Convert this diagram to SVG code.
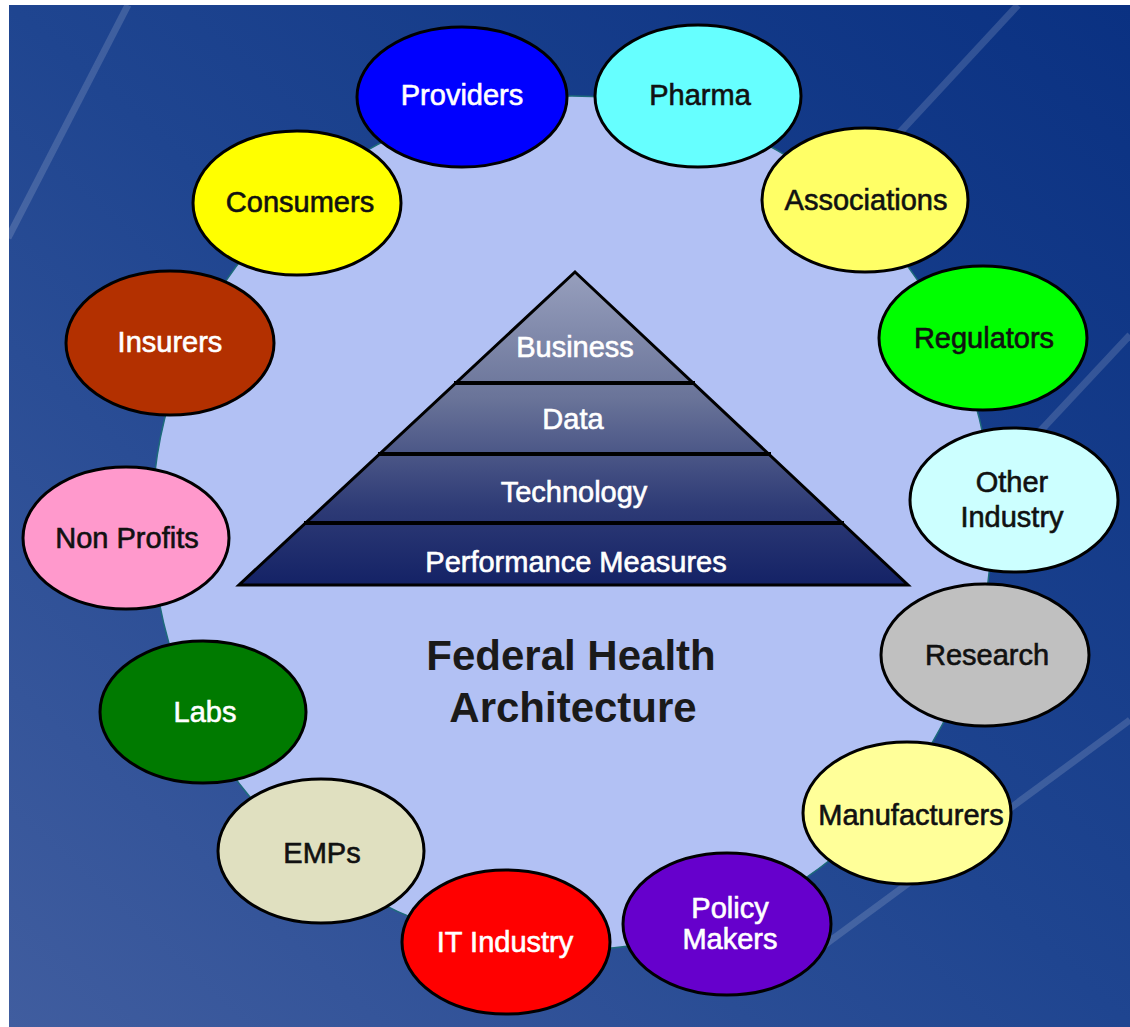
<svg xmlns="http://www.w3.org/2000/svg" width="1130" height="1027" viewBox="0 0 1130 1027">
<defs>
<linearGradient id="bg" x1="1" y1="0" x2="0" y2="1">
<stop offset="0" stop-color="#0a3182"/>
<stop offset="0.5" stop-color="#1f4590"/>
<stop offset="1" stop-color="#405d9f"/>
</linearGradient>
<linearGradient id="pyr" x1="0" y1="272" x2="0" y2="585" gradientUnits="userSpaceOnUse">
<stop offset="0" stop-color="#979fbd"/>
<stop offset="0.4" stop-color="#6a7499"/>
<stop offset="0.75" stop-color="#2e3b76"/>
<stop offset="1" stop-color="#142266"/>
</linearGradient>
<style>
.node{stroke:#000;stroke-width:3}
.lbl{font-family:"Liberation Sans",Arial,sans-serif;font-size:29px;text-anchor:middle;stroke-width:0.6}
.w{fill:#fff;stroke:#fff}
.k{fill:#111;stroke:#111}
.streak{stroke:#fff;stroke-opacity:0.15;stroke-width:7;fill:none}
.sep{stroke:#000;stroke-width:4}
.ttl{font-family:"Liberation Sans",Arial,sans-serif;font-size:42px;font-weight:bold;text-anchor:middle;fill:#1a1a1a}
</style>
</defs>
<rect x="0" y="0" width="1130" height="1027" fill="#fff"/>
<rect x="9" y="5" width="1121" height="1022" fill="url(#bg)"/>
<g id="streaks">
<line class="streak" x1="128" y1="5" x2="8" y2="238"/>
<line class="streak" x1="1018" y1="5" x2="800" y2="240"/>
<line class="streak" x1="1130" y1="335" x2="1030" y2="442"/>
<line class="streak" x1="1130" y1="720" x2="815" y2="952"/>
</g>
<g id="hub">
<ellipse cx="572" cy="523" rx="420" ry="427" fill="#b2c1f4" stroke="#1d6b7b" stroke-width="1.5"/>
</g>
<g id="pyramid">
<polygon points="575,272 908,585 239,585" fill="url(#pyr)" stroke="#000" stroke-width="3" stroke-linejoin="miter"/>
<line class="sep" x1="454" y1="383" x2="695" y2="383"/>
<line class="sep" x1="378" y1="454" x2="771" y2="454"/>
<line class="sep" x1="304" y1="523" x2="844" y2="523"/>
<text class="lbl w" x="575" y="357">Business</text>
<text class="lbl w" x="573" y="429">Data</text>
<text class="lbl w" x="574" y="502">Technology</text>
<text class="lbl w" x="576" y="572">Performance Measures</text>
</g>
<g id="title">
<text class="ttl" x="571" y="670">Federal Health</text>
<text class="ttl" x="573" y="722">Architecture</text>
</g>
<g id="connectors"></g>
<g id="providers"><ellipse class="node" cx="462" cy="97" rx="105" ry="70" fill="#0000ff"/><text class="lbl w" x="462" y="105">Providers</text></g>
<g id="pharma"><ellipse class="node" cx="698" cy="96" rx="103" ry="71" fill="#66ffff"/><text class="lbl k" x="700" y="105">Pharma</text></g>
<g id="consumers"><ellipse class="node" cx="297" cy="203" rx="104" ry="72" fill="#ffff00"/><text class="lbl k" x="300" y="212">Consumers</text></g>
<g id="associations"><ellipse class="node" cx="865" cy="200" rx="103" ry="72" fill="#ffff66"/><text class="lbl k" x="866" y="210">Associations</text></g>
<g id="insurers"><ellipse class="node" cx="170" cy="343" rx="104" ry="72" fill="#b33000"/><text class="lbl w" x="170" y="352">Insurers</text></g>
<g id="regulators"><ellipse class="node" cx="983" cy="338" rx="104" ry="72" fill="#00ff00"/><text class="lbl k" x="984" y="348">Regulators</text></g>
<g id="nonprofits"><ellipse class="node" cx="126" cy="538" rx="103" ry="71" fill="#ff99cc"/><text class="lbl k" x="127" y="548">Non Profits</text></g>
<g id="otherindustry"><ellipse class="node" cx="1014" cy="500" rx="104" ry="72" fill="#ccffff"/><text class="lbl k" x="1012" y="492">Other</text><text class="lbl k" x="1012" y="527">Industry</text></g>
<g id="research"><ellipse class="node" cx="985" cy="655" rx="104" ry="71" fill="#c0c0c0"/><text class="lbl k" x="987" y="665">Research</text></g>
<g id="labs"><ellipse class="node" cx="203" cy="712" rx="103" ry="71" fill="#007a00"/><text class="lbl w" x="205" y="722">Labs</text></g>
<g id="manufacturers"><ellipse class="node" cx="907" cy="813" rx="104" ry="71" fill="#ffff99"/><text class="lbl k" x="911" y="825">Manufacturers</text></g>
<g id="emps"><ellipse class="node" cx="321" cy="851" rx="103" ry="72" fill="#e0e0c0"/><text class="lbl k" x="322" y="863">EMPs</text></g>
<g id="itindustry"><ellipse class="node" cx="506" cy="942" rx="104" ry="72" fill="#ff0000"/><text class="lbl w" x="505" y="952">IT Industry</text></g>
<g id="policymakers"><ellipse class="node" cx="727" cy="924" rx="104" ry="71" fill="#6600cc"/><text class="lbl w" x="730" y="918">Policy</text><text class="lbl w" x="730" y="949">Makers</text></g>
</svg>
